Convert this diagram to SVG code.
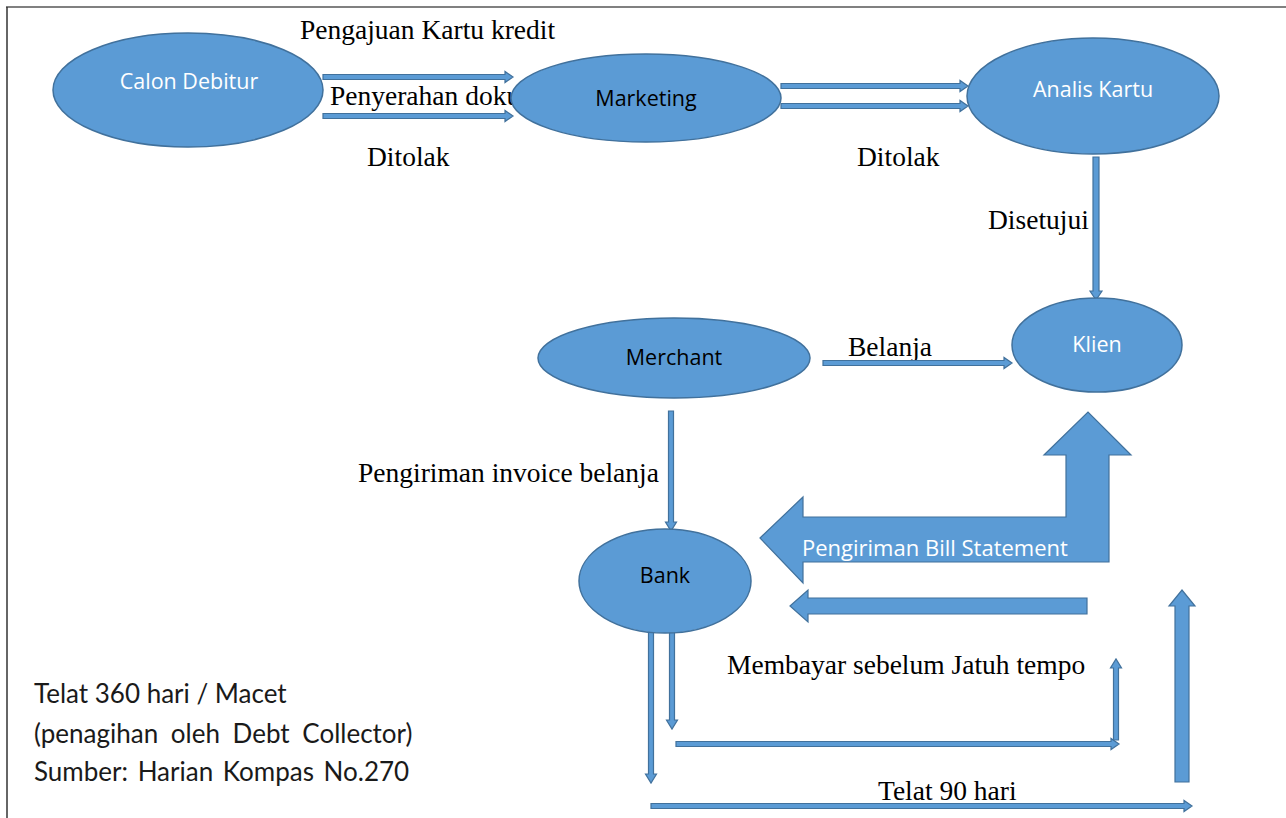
<svg xmlns="http://www.w3.org/2000/svg" width="1286" height="818" viewBox="0 0 1286 818">
<style>
.node{fill:#5B9BD5;stroke:#41719C;stroke-width:1.5}
.arr{fill:#5B9BD5;stroke:#41719C;stroke-width:1.2}
.lbl{font-family:"Liberation Serif",serif;font-size:27.5px;fill:#000}
.nt{font-family:"Open Sans","Liberation Sans",sans-serif;font-size:21.5px;text-anchor:middle}
.w{fill:#fff}
.b{fill:#000}
.note{font-family:Lato,"Liberation Sans",sans-serif;font-size:26px;fill:#1a1a1a}
</style>
<rect x="0" y="0" width="1286" height="818" fill="#fff"/>
<line x1="6" y1="7" x2="1286" y2="7" stroke="#808080" stroke-width="2"/>
<line x1="7" y1="7" x2="7" y2="818" stroke="#333" stroke-width="1.5"/>

<g id="labels">
<text class="lbl" x="300" y="39">Pengajuan Kartu kredit</text>
<text class="lbl" x="330" y="105">Penyerahan doku</text>
<text class="lbl" x="367" y="166">Ditolak</text>
<text class="lbl" x="857" y="166">Ditolak</text>
<text class="lbl" x="988" y="229">Disetujui</text>
<text class="lbl" x="848" y="356">Belanja</text>
<text class="lbl" x="358" y="482">Pengiriman invoice belanja</text>
<text class="lbl" x="727" y="674">Membayar sebelum Jatuh tempo</text>
<text class="lbl" x="878" y="800">Telat 90 hari</text>
</g>

<g id="connectors">
<path class="arr" d="M323 74.5H505V71.5L513 77L505 82.5V79.5H323Z"/>
<path class="arr" d="M323 113.5H505V110.5L513 116L505 121.5V118.5H323Z"/>
<path class="arr" d="M781 83.5H960V80.5L968 86L960 91.5V88.5H781Z"/>
<path class="arr" d="M781 103.5H960V100.5L968 106L960 111.5V108.5H781Z"/>
<path class="arr" d="M1093 157V291H1090L1096 300L1102 291H1099V157Z"/>
<path class="arr" d="M823 360.5H1004V357.5L1012 363L1004 368.5V365.5H823Z"/>
<path class="arr" d="M668.5 411V522H665.5L671 531L676.5 522H673.5V411Z"/>
<path class="arr" d="M648.5 632V774H645.5L651 783L656.5 774H653.5V632Z"/>
<path class="arr" d="M669.5 632V720H666.5L672 729L677.5 720H674.5V632Z"/>
<path class="arr" d="M676 741.5H1111V738.5L1119 744L1111 749.5V746.5H676Z"/>
<path class="arr" d="M1113.5 740V668H1110.5L1116 659L1121.5 668H1118.5V740Z"/>
<path class="arr" d="M651 803.5H1184V800.5L1192 806L1184 811.5V808.5H651Z"/>
<path class="arr" d="M1175 782V606H1169L1182 590L1195 606H1189V782Z"/>
<path class="arr" d="M790 606L808 590V598H1087V614H808V622Z"/>
<path class="arr" d="M760 538L803 497V517H1066V455H1044L1088 412L1131 455H1109V562H803V583Z"/>
<text x="802" y="556" font-family="'Open Sans','Liberation Sans',sans-serif" font-size="22" fill="#fff">Pengiriman Bill Statement</text>
</g>

<g id="calon-debitur">
<ellipse class="node" cx="188" cy="90" rx="135" ry="57"/>
<text class="nt w" x="189" y="89">Calon Debitur</text>
</g>
<g id="marketing">
<ellipse class="node" cx="646" cy="98" rx="135" ry="44"/>
<text class="nt b" x="646" y="106">Marketing</text>
</g>
<g id="analis-kartu">
<ellipse class="node" cx="1093" cy="96" rx="126" ry="58"/>
<text class="nt w" x="1093" y="97">Analis Kartu</text>
</g>
<g id="merchant">
<ellipse class="node" cx="674" cy="358" rx="136" ry="40"/>
<text class="nt b" x="674" y="365">Merchant</text>
</g>
<g id="klien">
<ellipse class="node" cx="1097" cy="345" rx="85" ry="47"/>
<text class="nt w" x="1097" y="352">Klien</text>
</g>
<g id="bank">
<ellipse class="node" cx="665" cy="581" rx="86" ry="52"/>
<text class="nt b" x="665" y="583">Bank</text>
</g>

<g id="note">
<text class="note" x="34" y="703">Telat 360 hari / Macet</text>
<text class="note" x="34" y="743" word-spacing="6">(penagihan oleh Debt Collector)</text>
<text class="note" x="34" y="781" word-spacing="3">Sumber: Harian Kompas No.270</text>
</g>
</svg>
